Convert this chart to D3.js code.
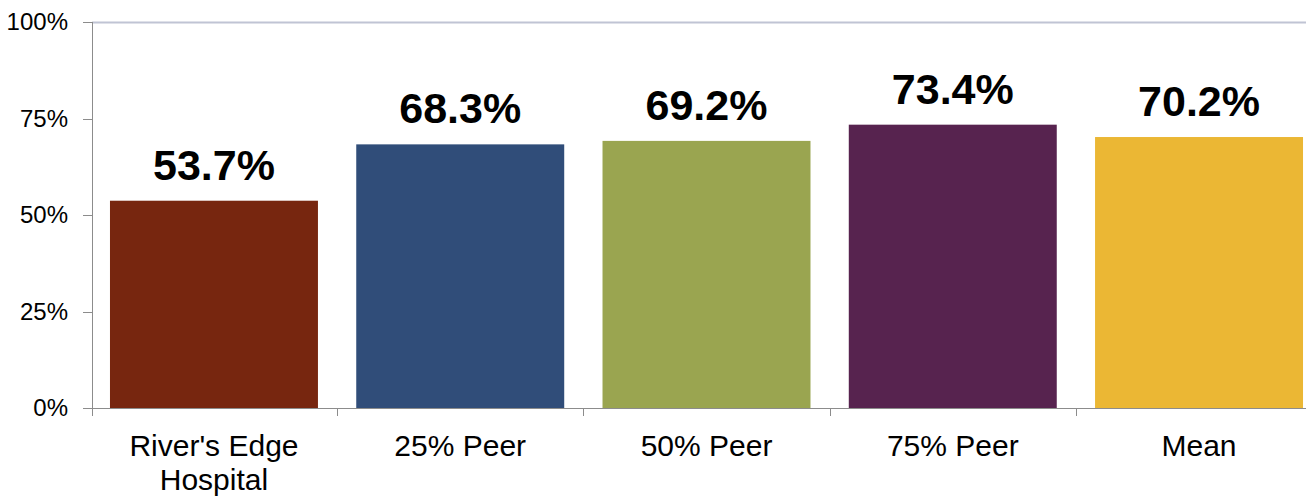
<!DOCTYPE html>
<html>
  <head>
    <meta charset="utf-8">
    <style>
    body {margin:0; background:white; overflow:hidden;}
    * {font-family: "Liberation Sans", Arial, sans-serif;}
    .axis path, .axis line {stroke: #8c8c8c; shape-rendering: crispEdges;}
    </style>
  </head>
  <body>
    <div id="chart"></div>
    <script src="https://d3js.org/d3.v7.min.js"></script>
    <script>

    // data
    var categories = ["River's Edge Hospital", "25% Peer", "50% Peer", "75% Peer", "Mean"];
    var values = [53.7, 68.3, 69.2, 73.4, 70.2];
    var colors = ["#77260f", "#304d79", "#9aa550", "#57234f", "#ebb734"];
    var yTicks = [0, 25, 50, 75, 100];

    // plot area runs a bit past the right edge of the picture (cropped like the original)
    var margin = {top: 22, left: 92},
      width = 1229,
      height = 386;

    var svg = d3.select("#chart").append("svg")
      .attr("width", 1306)
      .attr("height", 500)
      .append("g")
      .attr("transform", "translate(" + margin.left + "," + margin.top + ")");

    var x = d3.scaleBand()
      .domain(categories)
      .range([0, width])
      .paddingInner(0.1555)
      .paddingOuter(0.073);

    var y = d3.scaleLinear()
      .domain([0, 100])
      .range([height, 0]);

    // top border line
    svg.append("line")
      .attr("x1", 0).attr("x2", width)
      .attr("y1", 0.5).attr("y2", 0.5)
      .attr("stroke", "#c0c4d4")
      .attr("stroke-width", 2);

    // bars
    svg.selectAll(".bar")
      .data(categories)
      .enter().append("rect")
      .attr("x", function(d) { return x(d); })
      .attr("width", x.bandwidth())
      .attr("y", function(d, i) { return y(values[i]); })
      .attr("height", function(d, i) { return height - y(values[i]); })
      .attr("fill", function(d, i) { return colors[i]; });

    // value labels
    svg.selectAll(".val")
      .data(categories)
      .enter().append("text")
      .attr("x", function(d) { return x(d) + x.bandwidth() / 2; })
      .attr("y", function(d, i) { return y(values[i]) - 21; })
      .attr("text-anchor", "middle")
      .style("font-size", "43px")
      .style("font-weight", "bold")
      .style("fill", "#000")
      .text(function(d, i) { return values[i].toFixed(1) + "%"; });

    // y axis
    var yaxis = svg.append("g")
      .attr("class", "axis")
      .call(d3.axisLeft(y).tickValues(yTicks).tickSize(9).tickPadding(15)
        .tickFormat(function(d) { return d + "%"; }));
    yaxis.select(".domain").attr("d", "M0.5,0V" + (height + 8));
    yaxis.selectAll("text").style("font-size", "24px").style("fill", "#000")
      .attr("font-family", null);

    // x axis
    var xaxis = svg.append("g")
      .attr("class", "axis")
      .attr("transform", "translate(0," + height + ")")
      .call(d3.axisBottom(x).tickSize(0).tickPadding(0).tickFormat(""));
    xaxis.select(".domain").attr("d", "M0,0.5H" + width);

    // ticks between categories
    var gaps = categories.slice(0, -1).map(function(d) {
      return x(d) + x.bandwidth() + x.step() * x.paddingInner() / 2;
    });
    xaxis.selectAll(".bnd")
      .data(gaps)
      .enter().append("line")
      .attr("x1", function(d) { return Math.round(d) + 0.5; })
      .attr("x2", function(d) { return Math.round(d) + 0.5; })
      .attr("y1", 0).attr("y2", 8);

    // category labels
    var labelLines = {"River's Edge Hospital": ["River's Edge", "Hospital"]};
    svg.selectAll(".cat")
      .data(categories)
      .enter().append("text")
      .attr("x", function(d) { return x(d) + x.bandwidth() / 2; })
      .attr("y", height + 48)
      .attr("text-anchor", "middle")
      .style("font-size", "30px")
      .style("fill", "#000")
      .each(function(d) {
        var lines = labelLines[d] || [d];
        var t = d3.select(this);
        lines.forEach(function(l, i) {
          t.append("tspan")
            .attr("x", x(d) + x.bandwidth() / 2)
            .attr("dy", i === 0 ? 0 : 34)
            .text(l);
        });
      });

    </script>
  </body>
</html>
